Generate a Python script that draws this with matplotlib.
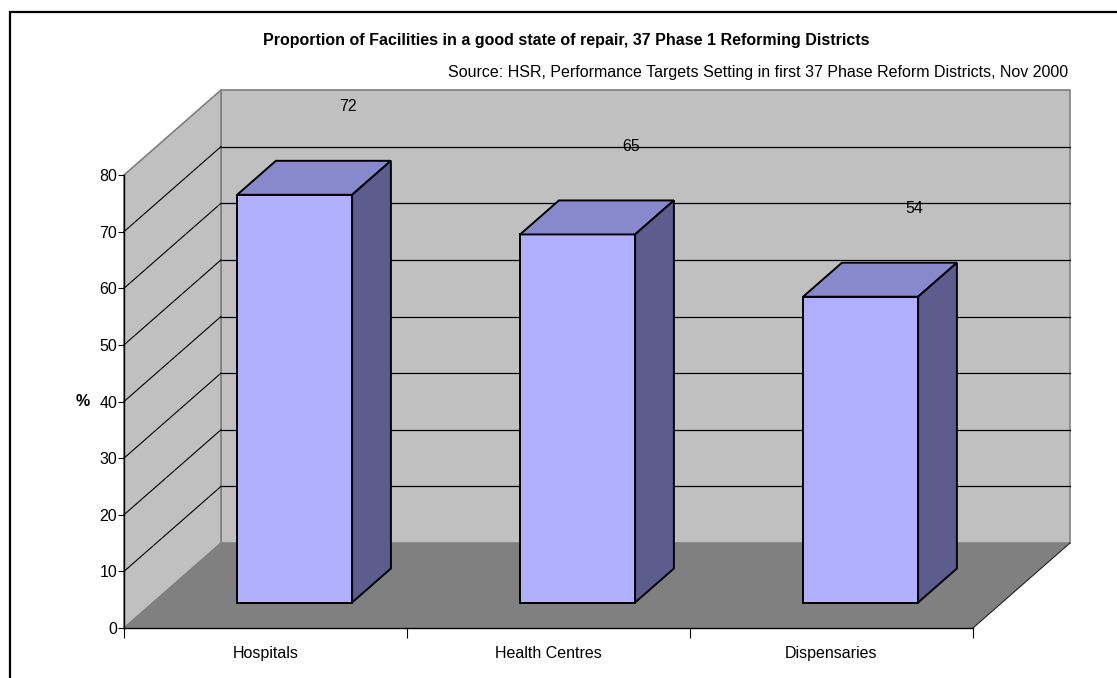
import matplotlib
matplotlib.use("Agg")
import matplotlib.pyplot as plt
from matplotlib.patches import Polygon, Rectangle
import numpy as np

plt.rcParams['font.family'] = ['Liberation Sans', 'DejaVu Sans']

title = "Proportion of Facilities in a good state of repair, 37 Phase 1 Reforming Districts"
source = "Source: HSR, Performance Targets Setting in first 37 Phase Reform Districts, Nov 2000"
categories = ["Hospitals", "Health Centres", "Dispensaries"]
values = [72, 65, 54]
yticks = [0, 10, 20, 30, 40, 50, 60, 70, 80]

# figure in pixels, front plane of the 3d box
W, H = 1117, 678
px_x0, px_x1 = 124, 973      # front x axis
px_y0, px_y80 = 628, 175     # front y axis, 0 and 80
depth_px = (97, 85)
fs = 11.5

fig = plt.figure(figsize=(W / 100, H / 100), dpi=100)
ax = fig.add_axes([0, 0, 1, 1])
sx = (px_x1 - px_x0) / len(categories)
sy = (px_y0 - px_y80) / 80.0
ax.set_xlim(-px_x0 / sx, (W - px_x0) / sx)
ax.set_ylim(-(H - px_y0) / sy, px_y0 / sy)
D = np.array([depth_px[0] / sx, depth_px[1] / sy])
n = len(categories)
top = yticks[-1]

wall = '#C0C0C0'
floor = '#808080'
edge = '#808080'

# walls and floor
back = [D + (0, 0), D + (n, 0), D + (n, top), D + (0, top)]
left = [(0, 0), (0, top), D + (0, top), D + (0, 0)]
flo = [(0, 0), (n, 0), D + (n, 0), D + (0, 0)]
ax.add_patch(Polygon(back, closed=True, fc=wall, ec=edge, lw=1.2, zorder=1))
ax.add_patch(Polygon(left, closed=True, fc=wall, ec=edge, lw=1.2, zorder=1))
ax.add_patch(Polygon(flo, closed=True, fc=floor, ec='none', zorder=2))
ax.plot([n, n + D[0]], [0, D[1]], color='#222222', lw=0.8, zorder=2)

for v in yticks[1:-1]:
    ax.plot([D[0], n + D[0]], [D[1] + v, D[1] + v], color='black', lw=0.9, zorder=1.5)
    ax.plot([0, D[0]], [v, D[1] + v], color='black', lw=0.8, zorder=1.5)

# bars
bw = 115 / sx
f1, f2 = 0.3, 0.7
front_c = '#B0B0FF'
top_c = '#8888CC'
side_c = '#5C5C8E'
for i, h in enumerate(values):
    c = i + 0.5
    x0 = c - bw / 2 + f1 * D[0]
    y0 = f1 * D[1]
    dd = (f2 - f1) * D
    ax.add_patch(Rectangle((x0, y0), bw, h, fc=front_c, ec='black', lw=1.4, zorder=3))
    ax.add_patch(Polygon([(x0, y0 + h), (x0 + bw, y0 + h),
                          (x0 + bw + dd[0], y0 + h + dd[1]), (x0 + dd[0], y0 + h + dd[1])],
                         closed=True, fc=top_c, ec='black', lw=1.4, zorder=3))
    ax.add_patch(Polygon([(x0 + bw, y0), (x0 + bw, y0 + h),
                          (x0 + bw + dd[0], y0 + h + dd[1]), (x0 + bw + dd[0], y0 + dd[1])],
                         closed=True, fc=side_c, ec='black', lw=1.4, zorder=3))
    ax.annotate(str(h), xy=(c + 0.5 * D[0], 0.5 * D[1] + h), xytext=(24.5, 51),
                textcoords='offset points', ha='center', va='center', fontsize=fs, zorder=4)

# axes through the library spines
for s in ['top', 'right']:
    ax.spines[s].set_visible(False)
ax.spines['left'].set_position(('data', 0))
ax.spines['left'].set_bounds(0, top)
ax.spines['bottom'].set_position(('data', 0))
ax.spines['bottom'].set_bounds(0, n)
ax.spines['left'].set_zorder(5)
ax.spines['bottom'].set_zorder(5)
ax.spines['left'].set_linewidth(1.0)
ax.spines['bottom'].set_linewidth(1.0)
ax.set_yticks(yticks)
ax.set_yticklabels([str(v) for v in yticks], fontsize=fs)
ax.tick_params(axis='y', direction='out', length=4, width=0.8, pad=1)
ax.set_xticks(range(n + 1))
ax.set_xticklabels([])
ax.tick_params(axis='x', which='major', direction='out', length=7, width=0.8)
ax.set_xticks([i + 0.5 for i in range(n)], minor=True)
ax.set_xticklabels(categories, minor=True, fontsize=fs)
ax.tick_params(axis='x', which='minor', length=0, pad=13)

ax.annotate("%", xy=(0, 40), xytext=(-29.5, 0), textcoords='offset points',
            ha='center', va='center', fontsize=fs, fontweight='bold')

fig.text(566 / W, 1 - 40 / H, title, ha='center', va='center', fontsize=fs, fontweight='bold')
fig.text(1068 / W, 1 - 73 / H, source, ha='right', va='center', fontsize=fs)

# chart border
fig.patches.append(Rectangle((10 / W, -0.1), 1.2, 1.1 - 12 / H, transform=fig.transFigure,
                             fill=False, ec='black', lw=1.6, zorder=10))

fig.savefig("out.png", dpi=100)
